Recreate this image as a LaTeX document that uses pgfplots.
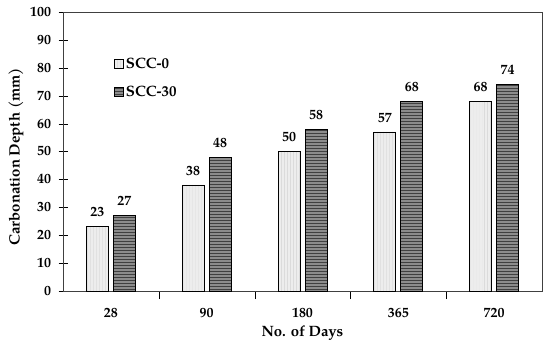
\documentclass[border=0pt]{standalone}
\usepackage{fontspec}
\setmainfont{TeX Gyre Pagella}
\usepackage{pgfplots}
\pgfplotsset{compat=1.18}
\usetikzlibrary{patterns}
\begin{document}
\begin{tikzpicture}
\begin{axis}[
  scale only axis, width=479bp, height=279bp,
  xmin=-0.5, xmax=4.5, ymin=0, ymax=100,
  ytick={0,10,...,100},
  xtick={0,1,2,3,4}, xticklabels={28,90,180,365,720},
  minor xtick={0.5,1.5,2.5,3.5},
  major x tick style={draw=none},
  minor x tick style={black},
  y tick style={black},
  tick align=center, major tick length=9bp, minor tick length=8bp,
  xtick pos=bottom, ytick pos=left,
  axis line style={black!75},
  /pgf/number format/assume math mode=true,
  tick label style={font=\fontsize{14}{16}\selectfont\bfseries},
  xticklabel style={yshift=-5bp},
  yticklabel style={xshift=-4bp},
  label style={font=\fontsize{15}{18}\selectfont\bfseries},
  xlabel={No. of Days},
  ylabel={Carbonation Depth (mm)},
  xlabel style={at={(axis description cs:0.5,-0.152)}, anchor=center},
  ylabel style={at={(axis description cs:-0.098,0.482)}, anchor=center},
  ybar, bar width=22bp,
  nodes near coords,
  nodes near coords style={font=\fontsize{14}{16}\selectfont\bfseries, yshift=6bp, black},
  legend style={at={(axis description cs:0.1,0.85)}, anchor=north west, draw=none, fill=none,
    font=\fontsize{15}{18}\selectfont\bfseries, row sep=12bp, legend cell align=left},
  legend image code/.code={\draw[#1] (0bp,-4.5bp) rectangle (9bp,4.5bp);},
]
\addplot[bar shift=-13.5bp, draw=black, line width=0.8pt, fill=black!7,
  postaction={pattern=vertical lines, pattern color=black!14}]
  coordinates {(0,23) (1,38) (2,50) (3,57) (4,68)};
\addplot[bar shift=13.5bp, draw=black, line width=0.8pt, fill=black!45,
  postaction={pattern=horizontal lines, pattern color=black!75}]
  coordinates {(0,27) (1,48) (2,58) (3,68) (4,74)};
\legend{SCC-0, SCC-30}
\coordinate (ll) at (rel axis cs:0,0);
\coordinate (ur) at (rel axis cs:1,1);
\end{axis}
\pgfresetboundingbox
\path ([shift={(-63bp,-58bp)}]ll) rectangle ([shift={(8bp,12bp)}]ur);
\end{tikzpicture}
\end{document}
